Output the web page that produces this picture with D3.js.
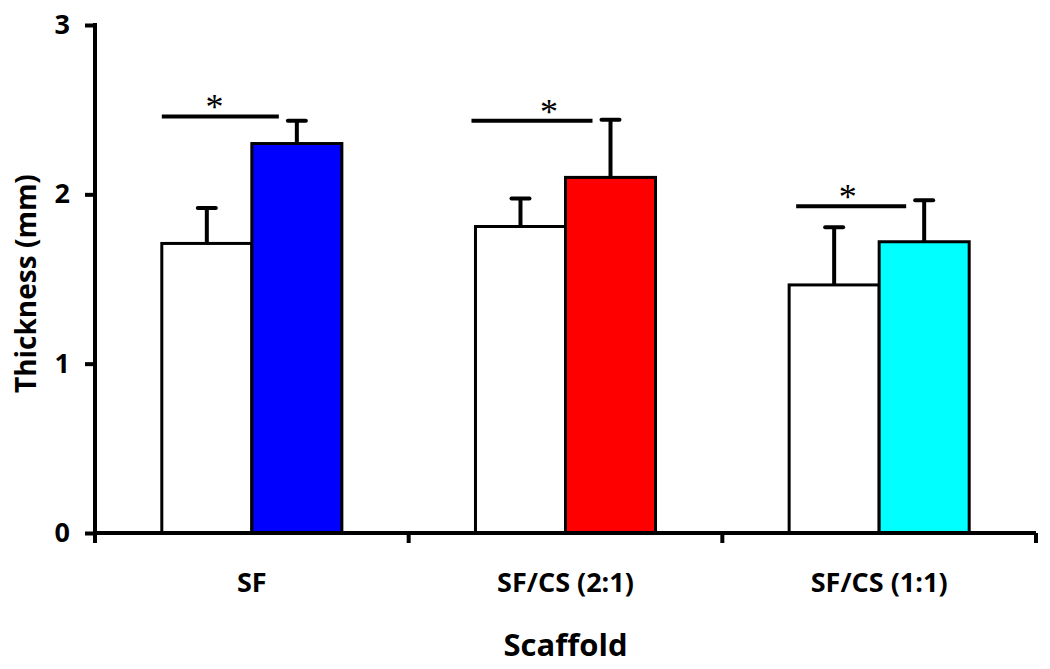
<!DOCTYPE html>
<html>
<head>
<meta charset="utf-8">
<script src="https://cdn.jsdelivr.net/npm/d3@7"></script>
<style>
  body { margin: 0; background: #fff; }
  text { font-family: "Open Sans", "Noto Sans", sans-serif; font-weight: bold; }
</style>
</head>
<body>
<svg id="chart"></svg>
<script>
// categories and series
const scaffolds = ['SF', 'SF/CS (2:1)', 'SF/CS (1:1)'];
const controlMean = [1.71, 1.81, 1.465];
const controlSD = [0.21, 0.165, 0.34];
const treatedMean = [2.30, 2.10, 1.72];
const treatedSD = [0.135, 0.34, 0.245];
const treatedColors = ['#0000ff', '#ff0000', '#00ffff'];
// significance bar level (mm)
const sigLevel = [2.46, 2.435, 1.93];
const yTicks = [0, 1, 2, 3];

const width = 1050;
const height = 669;
const margin = { top: 25, right: 14, bottom: 136, left: 95 };

const svg = d3.select('#chart')
  .attr('width', width)
  .attr('height', height);

const xScale = d3.scaleBand()
  .domain(scaffolds)
  .range([margin.left, width - margin.right])
  .paddingInner(0)
  .paddingOuter(0);

const yScale = d3.scaleLinear()
  .domain([0, 3])
  .range([height - margin.bottom, margin.top]);

const bw = xScale.bandwidth() * 0.287;
const groupOffset = (xScale.bandwidth() - 2 * bw) / 2;

// build bar data
const bars = [];
scaffolds.forEach((s, i) => {
  bars.push({ cat: s, x: xScale(s) + groupOffset, v: controlMean[i], sd: controlSD[i], fill: '#ffffff' });
  bars.push({ cat: s, x: xScale(s) + groupOffset + bw, v: treatedMean[i], sd: treatedSD[i], fill: treatedColors[i] });
});

// error bars (drawn first so the bar top covers the stem)
const err = svg.append('g');
err.selectAll('line.stem')
  .data(bars)
  .join('line')
  .attr('x1', d => d.x + bw / 2)
  .attr('x2', d => d.x + bw / 2)
  .attr('y1', d => yScale(d.v))
  .attr('y2', d => yScale(d.v + d.sd))
  .attr('stroke', '#000')
  .attr('stroke-width', 4);
err.selectAll('line.cap')
  .data(bars)
  .join('line')
  .attr('x1', d => d.x + bw / 2 - 9)
  .attr('x2', d => d.x + bw / 2 + 9)
  .attr('y1', d => yScale(d.v + d.sd))
  .attr('y2', d => yScale(d.v + d.sd))
  .attr('stroke', '#000')
  .attr('stroke-width', 4)
  .attr('stroke-linecap', 'round');

// bars
svg.append('g')
  .selectAll('rect')
  .data(bars)
  .join('rect')
  .attr('x', d => d.x)
  .attr('y', d => yScale(d.v))
  .attr('width', bw)
  .attr('height', d => yScale(0) - yScale(d.v))
  .attr('fill', d => d.fill)
  .attr('stroke', '#000')
  .attr('stroke-width', 3);

// significance lines and stars
// line start shift and star placement along the line (layout tweaks)
const sigShift = [0, -4, 7];
const starFrac = [0.45, 0.64, 0.47];
const sig = svg.append('g');
scaffolds.forEach((s, i) => {
  const x0 = xScale(s) + groupOffset + sigShift[i];
  const x1 = xScale(s) + groupOffset + bw * 1.3;
  sig.append('line')
    .attr('x1', x0)
    .attr('x2', x1)
    .attr('y1', yScale(sigLevel[i]))
    .attr('y2', yScale(sigLevel[i]))
    .attr('stroke', '#000')
    .attr('stroke-width', 4);
  sig.append('text')
    .attr('x', x0 + (x1 - x0) * starFrac[i])
    .attr('y', yScale(sigLevel[i]) + 3)
    .attr('text-anchor', 'middle')
    .style('font-family', '"Liberation Serif", serif')
    .style('font-weight', 'normal')
    .style('font-size', '36px')
    .text('*');
});

// y axis
const yAxis = d3.axisLeft(yScale)
  .tickValues(yTicks)
  .tickFormat(d3.format('d'))
  .tickSize(10)
  .tickPadding(15);

const gy = svg.append('g')
  .attr('transform', `translate(${margin.left},0)`)
  .call(yAxis);
gy.select('.domain').remove();
gy.selectAll('.tick line').attr('stroke', '#000').attr('stroke-width', 4);
gy.selectAll('.tick text').style('font-size', '27px').attr('fill', '#000');
gy.append('line')
  .attr('x1', 0).attr('x2', 0)
  .attr('y1', yScale(3) - 2).attr('y2', yScale(0) + 10)
  .attr('stroke', '#000').attr('stroke-width', 4);

// x axis
const gx = svg.append('g')
  .attr('transform', `translate(0,${yScale(0)})`);
gx.append('line')
  .attr('x1', margin.left).attr('x2', width - margin.right)
  .attr('y1', 0).attr('y2', 0)
  .attr('stroke', '#000').attr('stroke-width', 4);
gx.selectAll('line.tick')
  .data(scaffolds)
  .join('line')
  .attr('x1', d => xScale(d) + xScale.bandwidth())
  .attr('x2', d => xScale(d) + xScale.bandwidth())
  .attr('y1', 0).attr('y2', 10)
  .attr('stroke', '#000').attr('stroke-width', 4);
gx.selectAll('text')
  .data(scaffolds)
  .join('text')
  .attr('x', d => xScale(d) + xScale.bandwidth() / 2)
  .attr('y', 59)
  .attr('text-anchor', 'middle')
  .style('font-size', '27px')
  .text(d => d);

// labels
svg.append('text')
  .attr('x', xScale('SF/CS (2:1)') + xScale.bandwidth() / 2)
  .attr('y', 656)
  .attr('text-anchor', 'middle')
  .style('font-size', '31px')
  .text('Scaffold');

svg.append('text')
  .attr('transform', `translate(36,${yScale(1.52) + 8}) rotate(-90)`)
  .attr('text-anchor', 'middle')
  .style('font-size', '28px')
  .text('Thickness (mm)');
</script>
</body>
</html>
